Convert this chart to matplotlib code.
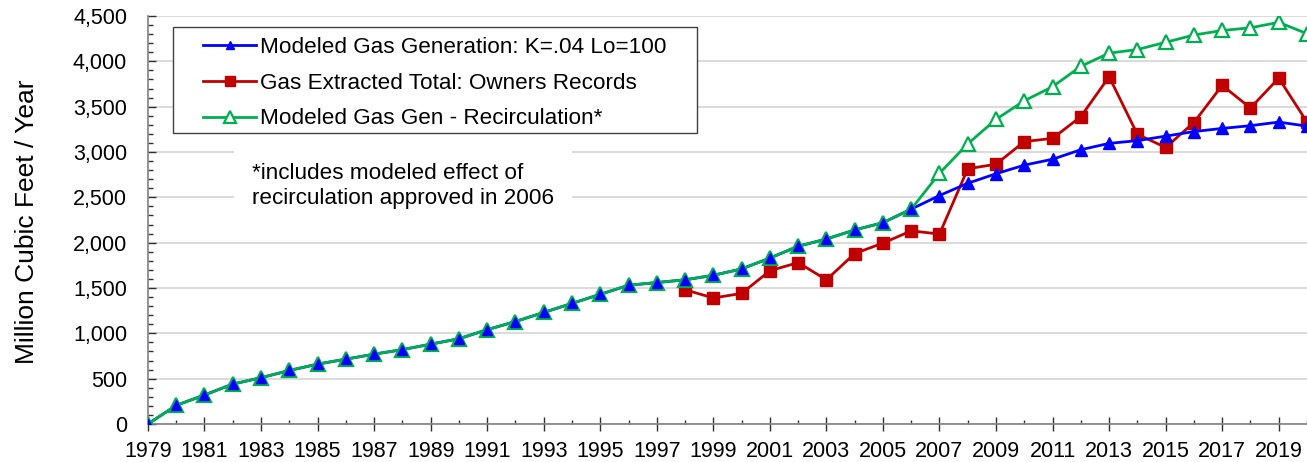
"""
Landfill gas: modeled generation vs extracted totals, 1979-2020.
"""
import numpy as np
import matplotlib
matplotlib.use("Agg")
import matplotlib.pyplot as plt
from matplotlib.patches import Rectangle
from matplotlib.ticker import MultipleLocator, FuncFormatter

plt.rcParams.update({"font.family": ["Liberation Sans", "DejaVu Sans"], "font.size": 15.5})

# ---------------------------------------------------------------------------
# Data (million cubic feet per year)
# ---------------------------------------------------------------------------
years = list(range(1979, 2021))

# shared part of both model runs, 1979-2006
base_model = [0, 205, 320, 440, 510, 590, 660, 715, 770, 820,
              880, 940, 1040, 1130, 1230, 1330, 1430, 1530, 1560, 1590,
              1640, 1710, 1830, 1960, 2040, 2140, 2220, 2370]

# 2007-2020
model_tail = [2520, 2655, 2760, 2855, 2920, 3025, 3095, 3125, 3175, 3225,
              3260, 3290, 3330, 3285]
recirc_tail = [2765, 3090, 3360, 3565, 3720, 3945, 4090, 4130, 4210, 4290,
               4340, 4370, 4430, 4305]

modeled_gen = base_model + model_tail
modeled_recirc = base_model + recirc_tail

extract_years = list(range(1998, 2021))
extracted = [1480, 1390, 1440, 1690, 1780, 1590, 1880, 1995, 2130, 2095,
             2815, 2865, 3115, 3150, 3390, 3830, 3195, 3050, 3325, 3735,
             3485, 3815, 3330]

label_years = list(range(1979, 2020, 2))

BLUE, RED, GREEN = "#0000FF", "#C00000", "#00B050"
TICK = "#303030"

fig = plt.figure(figsize=(13.07, 4.62), dpi=100)
ax = fig.add_axes([0.1132, 0.0823, 0.8868, 0.8831])

ax.plot(extract_years, extracted, color=RED, lw=2.0, marker="s", ms=8.5,
        zorder=3, label="Gas Extracted Total: Owners Records")
ax.plot(years, modeled_gen, color=BLUE, lw=2.0, marker="^", ms=8,
        zorder=4, label="Modeled Gas Generation: K=.04 Lo=100")
ax.plot(years, modeled_recirc, color=GREEN, lw=2.0, marker="^", ms=10,
        mfc="white", mec=GREEN, mew=1.6, zorder=5,
        label="Modeled Gas Gen - Recirculation*")
# where the two model runs overlap the blue markers show through
n = len(base_model)
ax.plot(years[:n], modeled_gen[:n], ls="none", marker="^", ms=6.5,
        color=BLUE, zorder=6)

ax.set_xlim(1979, 2019.9)
ax.set_ylim(0, 4500)
ax.set_xticks(label_years)
ax.set_xticks(years, minor=True)
ax.yaxis.set_major_locator(MultipleLocator(500))
ax.yaxis.set_minor_locator(MultipleLocator(100))
ax.yaxis.set_major_formatter(FuncFormatter(lambda v, p: f"{int(v):,}"))

ax.tick_params(axis="x", which="major", direction="inout", length=9.5,
               width=1, color=TICK, pad=7.5)
ax.tick_params(axis="x", which="minor", direction="in", length=3,
               width=1, color=TICK)
ax.tick_params(axis="y", which="major", direction="in", length=6,
               width=1, color=TICK, pad=15)
ax.tick_params(axis="y", which="minor", direction="in", length=3.5,
               width=1, color=TICK)

ax.grid(axis="y", which="major", color="#d4d4d4", lw=1.2, zorder=0)
ax.set_axisbelow(True)
for s in ("top", "right"):
    ax.spines[s].set_visible(False)
for s in ("left", "bottom"):
    ax.spines[s].set_color("#808080")
    ax.spines[s].set_linewidth(1.2)

fig.text(0.0207, 0.519, "Million Cubic Feet / Year", rotation=90,
         ha="center", va="center", fontsize=19)

# legend box is wider than matplotlib's symmetric padding allows, so the
# frame is drawn separately
ax.add_patch(Rectangle((0.0216, 0.7132), 0.4521, 0.2598, transform=ax.transAxes,
                       fc="white", ec="#404040", lw=1.0, zorder=9, clip_on=False))
handles, labels = ax.get_legend_handles_labels()
order = [1, 0, 2]
leg = ax.legend([handles[i] for i in order], [labels[i] for i in order],
                loc="upper left", bbox_to_anchor=(0.0475, 0.948),
                borderaxespad=0, borderpad=0, frameon=False,
                handlelength=2.36, handletextpad=0.18,
                labelspacing=0.65, fontsize=16.2, markerscale=0.8)
leg.set_zorder(10)

ax.text(0.0897, 0.583, "*includes modeled effect of\nrecirculation approved in 2006",
        transform=ax.transAxes, ha="left", va="center", linespacing=1.25,
        fontsize=16.2,
        bbox=dict(boxstyle="square,pad=0.8", fc="white", ec="none"), zorder=2)

fig.savefig("out.png", dpi=100)
